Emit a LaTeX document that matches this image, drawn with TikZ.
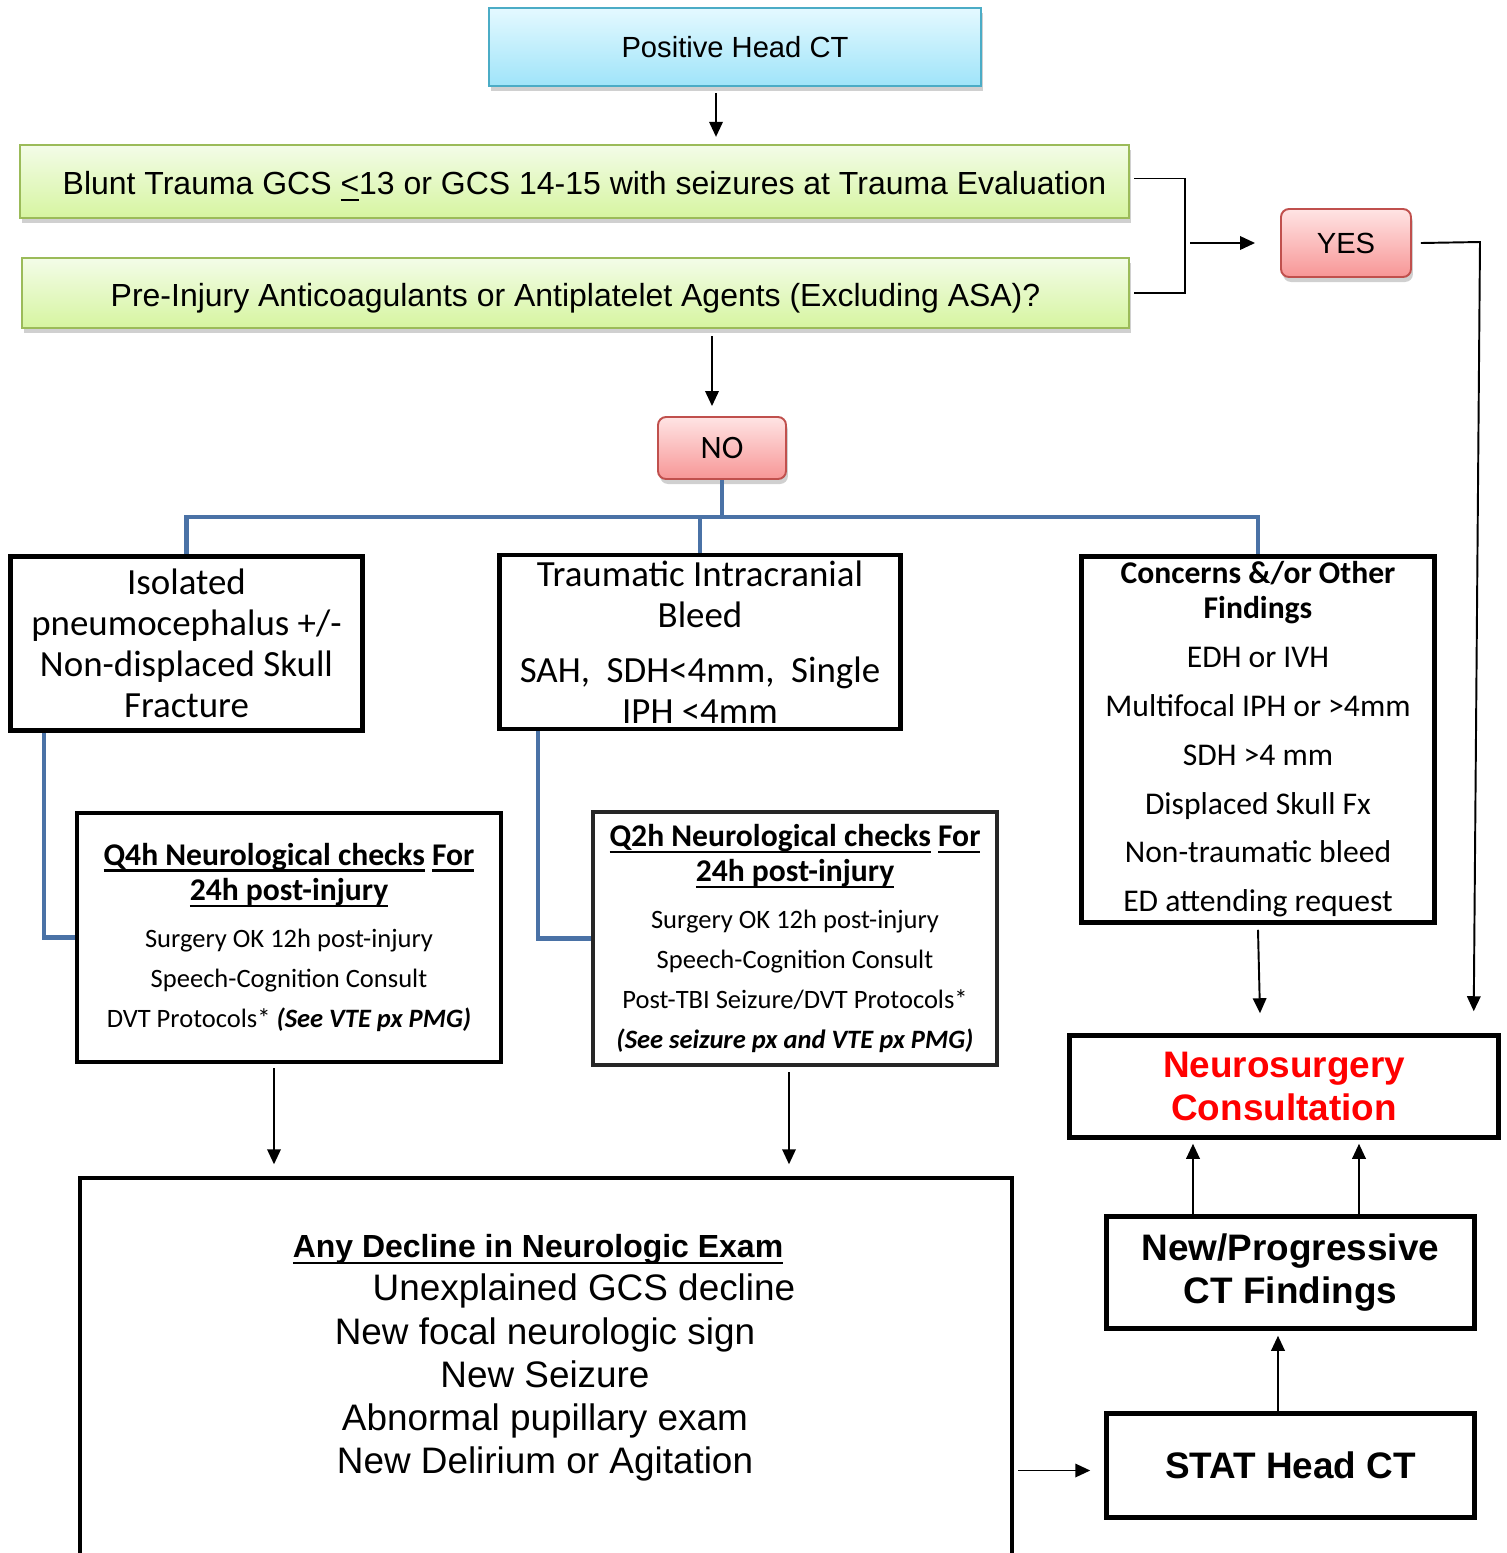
\documentclass[tikz,border=0pt]{standalone}
\usepackage{fontspec}
\setmainfont{Liberation Sans}
\newfontfamily\calibrifont{Carlito}
\usetikzlibrary{arrows.meta,shadows,calc}
\definecolor{cyantop}{HTML}{E4F9FF}
\definecolor{cyanbot}{HTML}{9FE4F9}
\definecolor{cyanborder}{HTML}{4BACC6}
\definecolor{greentop}{HTML}{F3FCE8}
\definecolor{greenbot}{HTML}{D6F5A0}
\definecolor{greenborder}{HTML}{9BBB59}
\definecolor{redtop}{HTML}{FFE4E4}
\definecolor{redbot}{HTML}{F79696}
\definecolor{redborder}{HTML}{C0504D}
\definecolor{treeblue}{HTML}{4A72A6}
\tikzset{
  arr/.style={line width=1.1pt,-{Triangle[length=0.3cm,width=0.27cm]}},
  conn/.style={line width=1.1pt},
  bluel/.style={draw=treeblue,line width=2.3pt},
  shad/.style={drop shadow={shadow xshift=0.04cm,shadow yshift=-0.1cm,opacity=0.3,fill=black!60}},
  hdbox/.style={draw=cyanborder,line width=1.3pt,top color=cyantop,bottom color=cyanbot,shad,
    font=\fontsize{16.6}{20}\selectfont},
  grbox/.style={draw=greenborder,line width=1.3pt,top color=greentop,bottom color=greenbot,shad,
    font=\fontsize{18.2}{22}\selectfont,text height=0.52cm,text depth=0cm},
  rdbox/.style={draw=redborder,line width=1.1pt,rounded corners=0.16cm,top color=redtop,bottom color=redbot,shad},
  blk/.style={draw=black,line width=2.6pt,fill=white,inner sep=1pt,align=flush center},
  calbig/.style={font=\calibrifont\fontsize{21}{23.3}\selectfont},
  calsmall/.style={font=\calibrifont\fontsize{15.1}{22.7}\selectfont},
  arialbold/.style={font=\bfseries\fontsize{21}{24.3}\selectfont},
}
\newcommand{\myul}[1]{\leavevmode\setbox0=\hbox{#1}\rlap{\rule[-0.2em]{\wd0}{0.07em}}\box0\relax}
\newcommand{\qhead}[1]{{\fontsize{18}{20}\selectfont\bfseries #1}}
\begin{document}
\begin{tikzpicture}[x=0.02cm,y=-0.02cm]
\useasboundingbox (0,0) rectangle (1507,1553);
\fill[white] (0,0) rectangle (1507,1553);

% top boxes
\node[hdbox,minimum width=9.84cm,minimum height=1.56cm] (pos) at (735,47) {Positive Head CT};
\node[grbox,minimum width=22.18cm,minimum height=1.46cm] (blunt) at (574.5,181.5)
  {\hspace*{0.4cm}Blunt Trauma GCS \myul{<}13 or GCS 14-15 with seizures at Trauma Evaluation};
\node[grbox,minimum width=22.14cm,minimum height=1.4cm] (pre) at (575.5,293)
  {Pre-Injury Anticoagulants or Antiplatelet Agents (Excluding ASA)?};
\node[rdbox,minimum width=2.6cm,minimum height=1.36cm,font=\fontsize{16.6}{20}\selectfont] (yes) at (1346,243) {YES};
\node[rdbox,minimum width=2.56cm,minimum height=1.24cm,font=\calibrifont\fontsize{18.6}{22}\selectfont] (no) at (722,448) {NO};

% middle boxes
\node[blk,calbig,minimum width=7.04cm,minimum height=3.48cm,text width=6.9cm] (b1) at (186.5,643.5)
  {Isolated\\pneumocephalus +/-\\Non-displaced Skull\\Fracture};
\node[blk,calbig,minimum width=8.02cm,minimum height=3.48cm,text width=7.8cm] (b2) at (700,642)
  {Traumatic Intracranial\\Bleed\\[8pt]SAH,\ \ SDH<4mm,\ \ Single\\IPH <4mm};
\node[blk,font=\calibrifont\fontsize{18}{27.8}\selectfont,minimum width=7.06cm,minimum height=7.32cm,text width=6.9cm] (b3) at (1258,739.5)
  {{\bfseries Concerns \&/or Other}\\[-8pt]{\bfseries Findings}\\EDH or IVH\\Multifocal IPH or >4mm\\SDH >4 mm\\Displaced Skull Fx\\Non-traumatic bleed\\ED attending request};

\node[blk,calsmall,line width=2.3pt,minimum width=8.48cm,minimum height=4.98cm,text width=8.2cm] (b4) at (289,937.5)
  {\qhead{\myul{Q4h Neurological checks} \myul{For}}\\[-2.7pt]
   \qhead{\myul{24h post-injury}}\\[4.3pt]
   Surgery OK 12h post-injury\\
   Speech-Cognition Consult\\
   DVT Protocols* \textbf{\textit{(See VTE px PMG)}}};
\node[blk,calsmall,draw=black!85,line width=2.3pt,minimum width=8.08cm,minimum height=5.06cm,text width=7.9cm] (b5) at (795,938.5)
  {\qhead{\myul{Q2h Neurological checks} \myul{For}}\\[-2.7pt]
   \qhead{\myul{24h post-injury}}\\[4.3pt]
   Surgery OK 12h post-injury\\
   Speech-Cognition Consult\\
   Post-TBI Seizure/DVT Protocols*\\
   \textbf{\textit{(See seizure px and VTE px PMG)}}};

% bottom boxes
\node[blk,line width=2.3pt,minimum width=18.66cm,minimum height=7.83cm] (big) at (546,1374) {};
\node[align=flush center,text width=14cm,font=\fontsize{21}{24.6}\selectfont] (bigtxt) at (545,1358)
  {{\fontsize{18.2}{20}\selectfont\bfseries\myul{Any Decline in Neurologic Exam}}\kern0.28cm\\
   \hspace*{1.56cm}Unexplained GCS decline\\
   New focal neurologic sign\\
   New Seizure\\
   Abnormal pupillary exam\\
   New Delirium or Agitation};
\node[blk,arialbold,text=red,minimum width=8.58cm,minimum height=2.04cm,text width=8.2cm] (neuro) at (1284,1086.5)
  {Neurosurgery\\Consultation};
\node[blk,arialbold,minimum width=7.36cm,minimum height=2.24cm,text width=7cm] (np) at (1290.5,1272.5)
  {New/Progressive\\CT Findings};
\node[blk,arialbold,minimum width=7.36cm,minimum height=2.08cm,text width=7cm] (stat) at (1290.5,1465.5)
  {STAT Head CT};

% helper coordinates
\coordinate (c1) at (716,0);
\coordinate (c2) at (712,0);
\coordinate (bx) at (1185,0);
\coordinate (yr) at (1480,242);
\coordinate (hy) at (0,517);
\coordinate (l1) at (44,0);
\coordinate (l2) at (538,0);
\coordinate (c3) at (274,0);
\coordinate (c4) at (789,0);
\coordinate (c5) at (1193,0);
\coordinate (c6) at (1359,0);
\coordinate (c7) at (1278,0);

% connectors
\draw[arr] ($(pos.south -| c1)+(0,6)$) -- ($(blunt.north -| c1)+(0,-7)$);
\draw[conn] ($(blunt.east)+(4,-3)$) -- ($(blunt.east -| bx)+(0,-3)$) -- (pre.east -| bx) -- ($(pre.east)+(4,0)$);
\draw[arr] ($(bx |- yes.west)+(5,0)$) -- ($(yes.west)+(-25,0)$);
\draw[arr] ($(yes.east)+(9,0)$) -- (yr) -- ($(neuro.north east)+(-27,-22)$);
\draw[arr] ($(pre.south -| c2)+(0,7)$) -- ($(no.north -| c2)+(0,-10)$);

\draw[bluel] (no.south) -- (no.south |- hy);
\draw[bluel] (b1.north) -- (b1.north |- hy) -- (b3.north |- hy) -- (b3.north);
\draw[bluel] (b2.north) -- (b2.north |- hy);
\draw[bluel] (b1.south -| l1) -- (l1 |- b4.west) -- (b4.west);
\draw[bluel] (b2.south -| l2) -- (l2 |- b5.west) -- (b5.west);

\draw[arr] ($(b4.south -| c3)+(0,4)$) -- ($(big.north -| c3)+(0,-12)$);
\draw[arr] ($(b5.south -| c4)+(0,5)$) -- ($(big.north -| c4)+(0,-12)$);
\draw[arr] ($(b3.south)+(0,5)$) -- ($(b3.south |- neuro.north)+(2,-20)$);
\draw[arr] ($(big.east |- stat.west)+(4,5)$) -- ($(stat.west)+(-14,5)$);
\draw[arr] (np.north -| c5) -- ($(neuro.south -| c5)+(0,4)$);
\draw[arr] (np.north -| c6) -- ($(neuro.south -| c6)+(0,4)$);
\draw[arr] (stat.north -| c7) -- ($(np.south -| c7)+(0,5)$);
\end{tikzpicture}
\end{document}
